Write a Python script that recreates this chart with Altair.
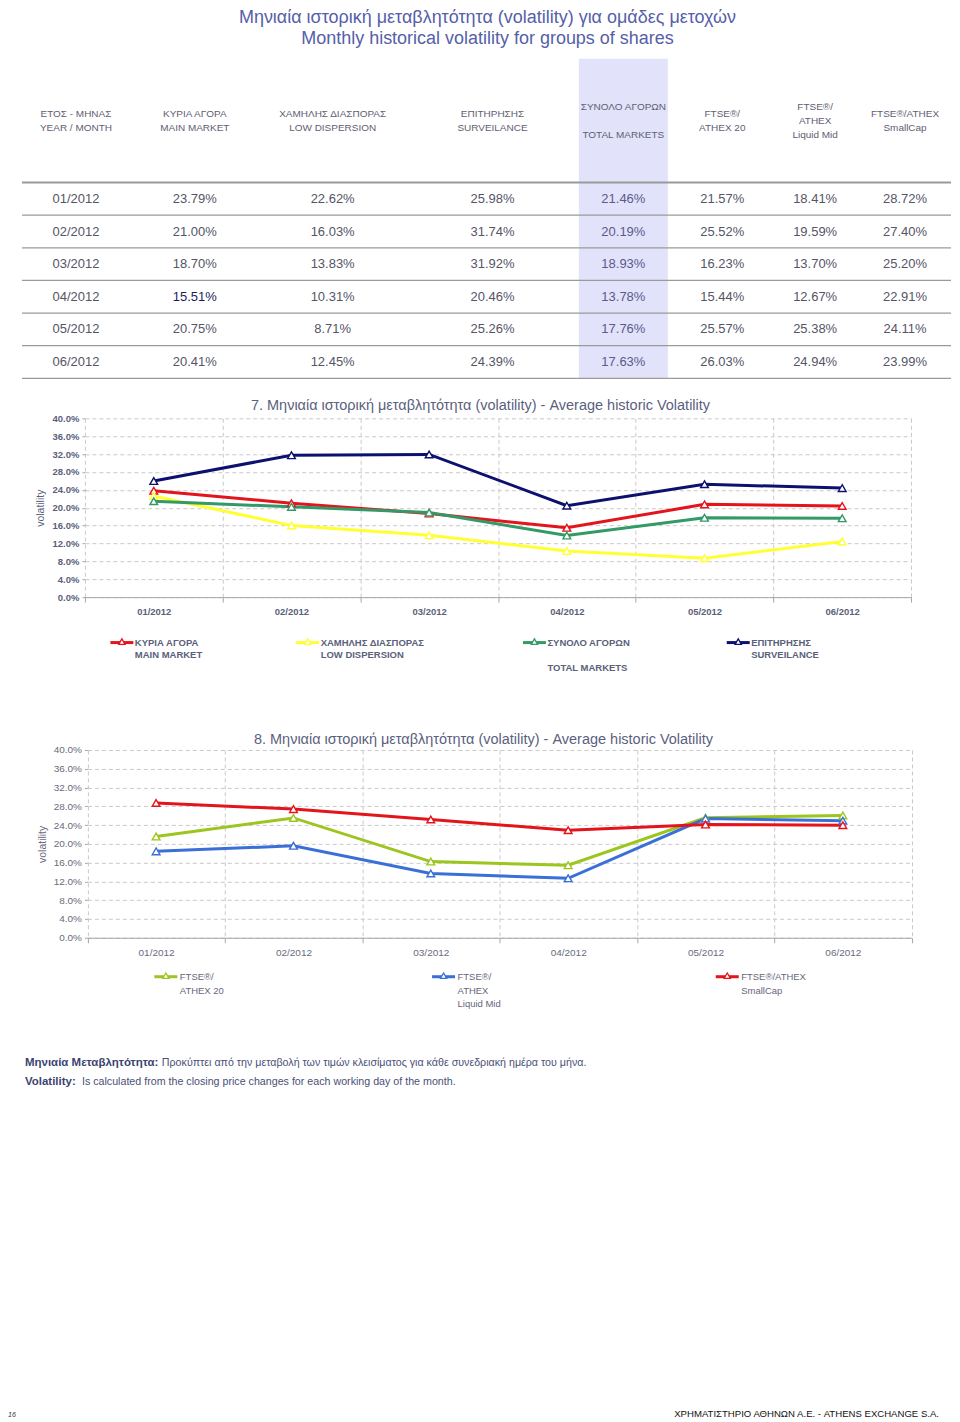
import altair as alt
import pandas as pd

# ---------------- data ----------------
months = ["01/2012", "02/2012", "03/2012", "04/2012", "05/2012", "06/2012"]
main_market = [23.79, 21.00, 18.70, 15.51, 20.75, 20.41]
low_dispersion = [22.62, 16.03, 13.83, 10.31, 8.71, 12.45]
surveillance = [25.98, 31.74, 31.92, 20.46, 25.26, 24.39]
total_markets = [21.46, 20.19, 18.93, 13.78, 17.76, 17.63]
ftse_athex20 = [21.57, 25.52, 16.23, 15.44, 25.57, 26.03]
ftse_liquid_mid = [18.41, 19.59, 13.70, 12.67, 25.38, 24.94]
ftse_smallcap = [28.72, 27.40, 25.20, 22.91, 24.11, 23.99]

column_headers = [
    "ΕΤΟΣ - ΜΗΝΑΣ\nYEAR / MONTH",
    "ΚΥΡΙΑ ΑΓΟΡΑ\nMAIN MARKET",
    "ΧΑΜΗΛΗΣ ΔΙΑΣΠΟΡΑΣ\nLOW DISPERSION",
    "ΕΠΙΤΗΡΗΣΗΣ\nSURVEILANCE",
    "ΣΥΝΟΛΟ ΑΓΟΡΩΝ\nTOTAL MARKETS",
    "FTSE®/\nATHEX 20",
    "FTSE®/\nATHEX\nLiquid Mid",
    "FTSE®/ATHEX\nSmallCap",
]
table_series = [main_market, low_dispersion, surveillance, total_markets,
                ftse_athex20, ftse_liquid_mid, ftse_smallcap]
highlight_col = 4            # ΣΥΝΟΛΟ ΑΓΟΡΩΝ column is shaded
emphasised_cell = ("04/2012", 1)

chart7_names = ["ΚΥΡΙΑ ΑΓΟΡΑ\nMAIN MARKET", "ΧΑΜΗΛΗΣ ΔΙΑΣΠΟΡΑΣ\nLOW DISPERSION",
                "ΣΥΝΟΛΟ ΑΓΟΡΩΝ\nTOTAL MARKETS", "ΕΠΙΤΗΡΗΣΗΣ\nSURVEILANCE"]
chart7_values = [main_market, low_dispersion, total_markets, surveillance]
chart7_colors = ["#e4141c", "#ffff33", "#339966", "#0c106e"]

chart8_names = ["FTSE®/\nATHEX 20", "FTSE®/\nATHEX\nLiquid Mid", "FTSE®/ATHEX\nSmallCap"]
chart8_values = [ftse_athex20, ftse_liquid_mid, ftse_smallcap]
chart8_colors = ["#9cc51f", "#3b6fd8", "#e4141c"]

y_ticks = [0, 4, 8, 12, 16, 20, 24, 28, 32, 36, 40]

title_gr = "Μηνιαία ιστορική μεταβλητότητα (volatility) για ομάδες μετοχών"
title_en = "Monthly historical volatility for groups of shares"
chart7_title = "7. Μηνιαία ιστορική μεταβλητότητα (volatility) - Average historic Volatility"
chart8_title = "8. Μηνιαία ιστορική μεταβλητότητα (volatility) - Average historic Volatility"
y_title = "volatility"
note_gr_bold = "Μηνιαία Μεταβλητότητα:"
note_gr = "Προκύπτει από την μεταβολή των τιμών κλεισίματος για κάθε συνεδριακή ημέρα του μήνα."
note_en_bold = "Volatility:"
note_en = "Is calculated from the closing price changes for each working day of the month."
footer_text = "ΧΡΗΜΑΤΙΣΤΗΡΙΟ ΑΘΗΝΩΝ Α.Ε. - ATHENS EXCHANGE S.A."
page_no = "16"

# ---------------- layout / style ----------------
FONT = "Liberation Sans"
W = 944
H_TOP, H_C7, H_LEG7, H_C8, H_BOT = 410, 179, 153, 188, 476
table_col_x = [68, 187, 325, 485, 616, 715, 808, 898]
table_row_range = [174, 370]
# header text layout: (first line y, line height) per header column
header_layout = {0: (105, 14), 1: (105, 14), 2: (105, 14), 3: (105, 14),
                 4: (98, 28), 5: (105, 14), 6: (98, 14), 7: (105, 14)}
legend7_x = [114, 300, 527, 731]
legend7_line_h = {0: 12.5, 1: 12.5, 2: 25, 3: 12.5}
legend8_x = [158, 436, 720]

c_title = "#5560a8"
c_head = "#5f6072"
c_cell = "#555566"
c_cell_hl = "#5a5a8c"
c_emph = "#1c1c5c"
c_ctitle = "#5b5f80"
c_ax7 = "#5b5f7a"
c_ax8 = "#6a6a7c"
c_grid = "#c9c9c9"
c_note = "#3a4470"

col_scale = alt.Scale(domain=list(range(8)), range=table_col_x, zero=False, nice=False)
row_scale = alt.Scale(type="band", domain=months, range=table_row_range,
                      paddingInner=0, paddingOuter=0)

# ---------------- panel A: title + table ----------------
t1 = alt.Chart(pd.DataFrame({"t": [title_gr]})).mark_text(
    fontSize=18, color=c_title, baseline="middle").encode(
    text="t:N", x=alt.value(480), y=alt.value(9))
t2 = alt.Chart(pd.DataFrame({"t": [title_en]})).mark_text(
    fontSize=18, color=c_title, baseline="middle").encode(
    text="t:N", x=alt.value(480), y=alt.value(30))

shade = alt.Chart(pd.DataFrame({"col": [highlight_col]})).mark_tick(
    orient="vertical", thickness=89, size=320, color="#e2e2fa", opacity=1).encode(
    x=alt.X("col:Q", scale=col_scale, axis=None), y=alt.value(210))

header_df = pd.DataFrame({"col": list(range(8)), "label": column_headers})
header_layers = []
for (y0, lh) in sorted(set(header_layout.values())):
    cols = [c for c, v in header_layout.items() if v == (y0, lh)]
    header_layers.append(
        alt.Chart(header_df).transform_filter(f"indexof({cols}, datum.col) >= 0").mark_text(
            lineBreak="\n", lineHeight=lh, fontSize=10, color=c_head, baseline="middle").encode(
            x=alt.X("col:Q", scale=col_scale, axis=None), y=alt.value(y0), text="label:N"))

rows_df = pd.DataFrame({"month": months})
row_lines = alt.Chart(rows_df).mark_rule(color="#9a9a9a", strokeWidth=1.3).encode(
    y=alt.Y("month:N", scale=row_scale, axis=None, bandPosition=1),
    x=alt.value(14), x2=alt.value(W))
head_line = alt.Chart(pd.DataFrame({"month": [months[0]]})).mark_rule(
    color="#9a9a9a", strokeWidth=2).encode(
    y=alt.Y("month:N", scale=row_scale, axis=None, bandPosition=0),
    x=alt.value(14), x2=alt.value(W))

cells = []
for r, m in enumerate(months):
    cells.append({"month": m, "col": 0, "txt": m, "hl": False})
    for c, s in enumerate(table_series, start=1):
        cells.append({"month": m, "col": c, "txt": f"{s[r]:.2f}%",
                      "hl": (m, c) == emphasised_cell})
cells_df = pd.DataFrame(cells)
cell_color = (alt.when(alt.datum.hl == True).then(alt.value(c_emph))
              .when(alt.datum.col == highlight_col).then(alt.value(c_cell_hl))
              .otherwise(alt.value(c_cell)))
cell_text = alt.Chart(cells_df).mark_text(fontSize=13, baseline="middle").encode(
    x=alt.X("col:Q", scale=col_scale, axis=None),
    y=alt.Y("month:N", scale=row_scale, axis=None),
    text="txt:N",
    color=cell_color)

panel_a = alt.layer(shade, row_lines, head_line, *header_layers, cell_text, t1, t2).properties(
    width=W, height=H_TOP)


# ---------------- line charts ----------------
def long_df(names, values):
    rows = []
    for n, vals in zip(names, values):
        for m, v in zip(months, vals):
            rows.append({"series": n, "month": m, "value": v})
    return pd.DataFrame(rows)


def line_chart(names, values, colors, title, x_range, h, bold, lab_color,
               title_dx, title_off, ytitle_x, lab_pad):
    df = long_df(names, values)
    wt = "bold" if bold else "normal"
    lsize = 9.5 if bold else 10
    x = alt.X("month:N", sort=months,
              scale=alt.Scale(type="band", domain=months, range=x_range,
                              paddingInner=0, paddingOuter=0),
              axis=alt.Axis(title=None, tickBand="extent", grid=True, gridDash=[4, 3],
                            gridColor=c_grid, domainColor="#a8a8a8", tickColor="#a8a8a8",
                            tickSize=5, labelPadding=lab_pad, labelFont=FONT,
                            labelFontSize=lsize, labelFontWeight=wt, labelColor=lab_color,
                            labelAngle=0))
    y = alt.Y("value:Q", scale=alt.Scale(domain=[0, 40], nice=False, zero=True),
              axis=alt.Axis(values=y_ticks, labelExpr="format(datum.value, '.1f') + '%'",
                            offset=-x_range[0], domain=False, tickSize=3,
                            tickColor="#a8a8a8", labelPadding=3, grid=True,
                            gridDash=[4, 3], gridColor=c_grid, labelFont=FONT,
                            labelFontSize=lsize, labelFontWeight=wt, labelColor=lab_color,
                            title=y_title, titleX=ytitle_x, titleY=h / 2,
                            titleFont=FONT, titleFontSize=10.5, titleFontWeight="normal",
                            titleColor=lab_color, titleAlign="center",
                            titleBaseline="middle", titleAngle=270))
    cscale = alt.Scale(domain=names, range=colors)
    lines = alt.Chart(df).mark_line(strokeWidth=3).encode(
        x=x, y=y, color=alt.Color("series:N", scale=cscale, legend=None))
    pts = alt.Chart(df).mark_point(shape="triangle-up", filled=True, fill="white",
                                   size=60, strokeWidth=1.4, opacity=1).encode(
        x=x, y=y, stroke=alt.Stroke("series:N", scale=cscale, legend=None))
    return alt.layer(lines, pts).properties(
        width=W, height=h,
        title=alt.TitleParams(text=title, font=FONT, fontSize=14.5, fontWeight="normal",
                              color=c_ctitle, anchor="middle", frame="group",
                              dx=title_dx, offset=title_off))


panel_b = line_chart(chart7_names, chart7_values, chart7_colors, chart7_title,
                     [77, 904], H_C7, True, c_ax7, 1, 0, -44, 4)
panel_d = line_chart(chart8_names, chart8_values, chart8_colors, chart8_title,
                     [79.5, 904.5], H_C8, False, c_ax8, 4, -3, -45, 5)


# ---------------- legends ----------------
def legend(names, colors, xs, sym_y, txt_y, h, bold, txt_color, line_h, dx, extra=None):
    df = pd.DataFrame({"series": names, "k": list(range(len(names)))})
    xsc = alt.Scale(domain=list(range(len(names))), range=xs, zero=False, nice=False)
    cscale = alt.Scale(domain=names, range=colors)
    x = alt.X("k:Q", scale=xsc, axis=None)
    seg = alt.Chart(df).mark_tick(orient="horizontal", size=23, thickness=3, opacity=1).encode(
        x=x, y=alt.value(sym_y), color=alt.Color("series:N", scale=cscale, legend=None))
    tri = alt.Chart(df).mark_point(shape="triangle-up", filled=True, fill="white",
                                   size=40, strokeWidth=1.3, opacity=1).encode(
        x=x, y=alt.value(sym_y - 1), stroke=alt.Stroke("series:N", scale=cscale, legend=None))
    txt_layers = []
    for lh in sorted(set(line_h.values())):
        ks = [k for k, v in line_h.items() if v == lh]
        txt_layers.append(
            alt.Chart(df).transform_filter(f"indexof({ks}, datum.k) >= 0").mark_text(
                lineBreak="\n", lineHeight=lh, fontSize=9.5,
                fontWeight="bold" if bold else "normal",
                color=txt_color, align="left", baseline="top", dx=dx).encode(
                x=x, y=alt.value(txt_y), text="series:N"))
    layers = [seg, tri] + txt_layers + (extra or [])
    return alt.layer(*layers).properties(width=W, height=h)


panel_c = legend(chart7_names, chart7_colors, legend7_x, 45.5, 40.5, H_LEG7, True,
                 c_ax7, legend7_line_h, 13)

notes = [
    alt.Chart(pd.DataFrame({"t": [note_gr_bold]})).mark_text(
        fontSize=11.5, fontWeight="bold", color=c_note, align="left", baseline="middle").encode(
        text="t:N", x=alt.value(17), y=alt.value(125)),
    alt.Chart(pd.DataFrame({"t": [note_gr]})).mark_text(
        fontSize=10.7, color="#4a5078", align="left", baseline="middle").encode(
        text="t:N", x=alt.value(154), y=alt.value(125)),
    alt.Chart(pd.DataFrame({"t": [note_en_bold]})).mark_text(
        fontSize=11.5, fontWeight="bold", color=c_note, align="left", baseline="middle").encode(
        text="t:N", x=alt.value(17), y=alt.value(144)),
    alt.Chart(pd.DataFrame({"t": [note_en]})).mark_text(
        fontSize=10.7, color="#4a5078", align="left", baseline="middle").encode(
        text="t:N", x=alt.value(74), y=alt.value(144)),
    alt.Chart(pd.DataFrame({"t": [footer_text]})).mark_text(
        fontSize=9.6, color="#111111", align="right", baseline="middle").encode(
        text="t:N", x=alt.value(932), y=alt.value(477)),
    alt.Chart(pd.DataFrame({"t": [page_no]})).mark_text(
        fontSize=7, fontStyle="italic", color="#333333", align="left", baseline="middle").encode(
        text="t:N", x=alt.value(0), y=alt.value(478)),
]

panel_e = legend(chart8_names, chart8_colors, legend8_x, 39, 34.5, H_BOT, False,
                 "#66667a", {0: 13.5, 1: 13.5, 2: 13.5}, 14, extra=notes)

chart = alt.vconcat(panel_a, panel_b, panel_c, panel_d, panel_e,
                    spacing=0, bounds="flush", padding=0).resolve_scale(
    color="independent", stroke="independent").configure_view(
    stroke=None).configure_text(font=FONT).configure_title(font=FONT).configure_axis(
    labelFont=FONT, titleFont=FONT)

chart.save("out.html", embed_options={"renderer": "svg", "actions": False})
